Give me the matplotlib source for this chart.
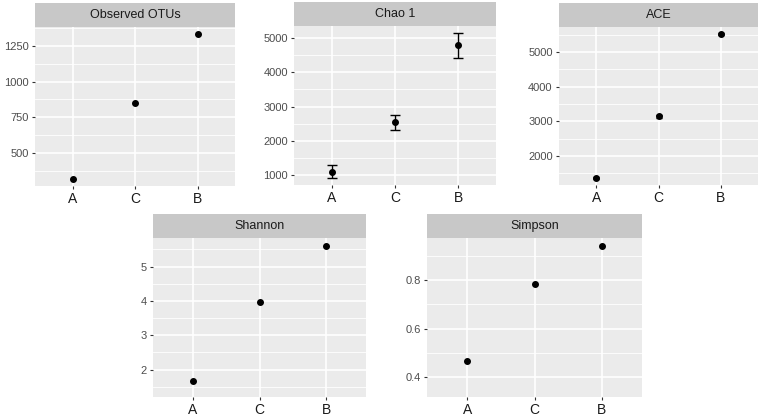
import numpy as np
import matplotlib
matplotlib.use("Agg")
import matplotlib.pyplot as plt

plt.rcParams['font.family'] = ['Liberation Sans', 'DejaVu Sans']

groups = ["A", "C", "B"]

observed = [320, 849, 1331]
chao1 = [1115, 2550, 4770]
chao1_se = [183, 217, 356]
ace = [1367, 3137, 5513]
ace_se = [25, 30, 35]
shannon = [1.67, 3.96, 5.60]
simpson = [0.467, 0.785, 0.941]

# (title, values, errors, major ticks, tick labels, y range, panel px box x0, x1, y0, y1)
panels = [
    ("Observed OTUs", observed, None, [500, 750, 1000, 1250], ["500", "750", "1000", "1250"],
     (270, 1382), (35, 235, 27, 186)),
    ("Chao 1", chao1, chao1_se, [1000, 2000, 3000, 4000, 5000], ["1000", "2000", "3000", "4000", "5000"],
     (724, 5334), (294, 496, 26, 185)),
    ("ACE", ace, ace_se, [2000, 3000, 4000, 5000], ["2000", "3000", "4000", "5000"],
     (1160, 5720), (559, 758, 27, 185)),
    ("Shannon", shannon, None, [2, 3, 4, 5], ["2", "3", "4", "5"],
     (1.2, 5.83), (153, 366, 238, 397)),
    ("Simpson", simpson, None, [0.4, 0.6, 0.8], ["0.4", "0.6", "0.8"],
     (0.318, 0.974), (427, 642, 238, 397)),
]

W, H = 760, 416
fig = plt.figure(figsize=(W / 100, H / 100), dpi=100)
fig.patch.set_facecolor("white")

strip_h = 24

for title, vals, errs, ticks, labels, ylim, (x0, x1, y0, y1) in panels:
    ax = fig.add_axes([x0 / W, 1 - y1 / H, (x1 - x0) / W, (y1 - y0) / H])
    ax.set_facecolor("#EBEBEB")
    for s in ax.spines.values():
        s.set_visible(False)

    x = np.arange(len(groups))
    ax.set_ylim(*ylim)
    ax.set_xlim(-0.6, len(groups) - 0.4)

    # grid: major + minor (midpoints)
    step = ticks[1] - ticks[0]
    minors = np.arange(ticks[0] - step / 2, ylim[1] + step, step)
    for m in minors:
        if ylim[0] < m < ylim[1]:
            ax.axhline(m, color="white", lw=0.6, zorder=0)
    for t in ticks:
        ax.axhline(t, color="white", lw=1.2, zorder=0)
    for xi in x:
        ax.axvline(xi, color="white", lw=1.2, zorder=0)

    if errs is not None:
        cap = 3.5 if title == "Chao 1" else 2.5
        ax.errorbar(x, vals, yerr=errs, fmt="o", color="black", ms=4,
                    capsize=cap, elinewidth=1, capthick=1, zorder=3)
    else:
        ax.plot(x, vals, "o", color="black", ms=4, zorder=3)

    ax.set_yticks(ticks)
    ax.set_yticklabels(labels)
    ax.set_xticks(x)
    ax.set_xticklabels(groups)
    ax.tick_params(axis="y", labelsize=8, labelcolor="#4D4D4D", color="#333333",
                   length=2.5, width=0.8, pad=2)
    ax.tick_params(axis="x", labelsize=10, labelcolor="#1A1A1A", color="#333333",
                   length=2.5, width=0.8, pad=2)

    sax = fig.add_axes([x0 / W, 1 - y0 / H, (x1 - x0) / W, strip_h / H])
    sax.set_facecolor("#C8C8C8")
    sax.set_xticks([])
    sax.set_yticks([])
    for s in sax.spines.values():
        s.set_visible(False)
    sax.text(0.5, 0.5, title, ha="center", va="center", fontsize=9,
             color="#1A1A1A", transform=sax.transAxes)

fig.savefig("out.png", dpi=100, facecolor="white")
